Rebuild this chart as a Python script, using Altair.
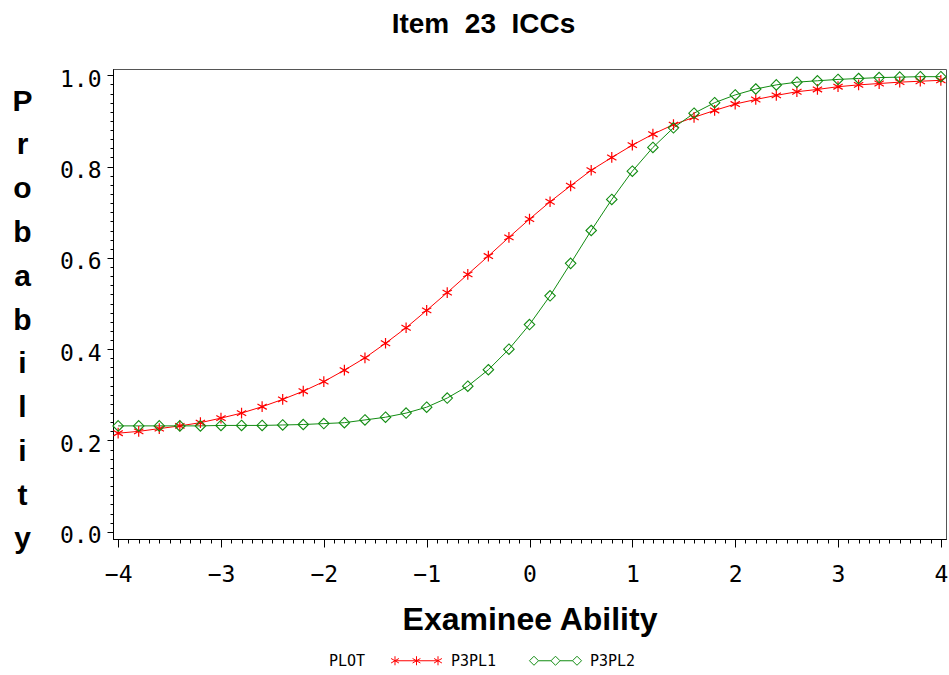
import altair as alt
import pandas as pd

# ---- data ----
theta = [-4.0, -3.8, -3.6, -3.4, -3.2, -3.0, -2.8, -2.6, -2.4, -2.2, -2.0,
         -1.8, -1.6, -1.4, -1.2, -1.0, -0.8, -0.6, -0.4, -0.2, 0.0,
         0.2, 0.4, 0.6, 0.8, 1.0, 1.2, 1.4, 1.6, 1.8, 2.0,
         2.2, 2.4, 2.6, 2.8, 3.0, 3.2, 3.4, 3.6, 3.8, 4.0]
p3pl1 = [0.216, 0.220, 0.226, 0.232, 0.239, 0.249, 0.260, 0.274, 0.290, 0.308, 0.329,
         0.354, 0.381, 0.413, 0.447, 0.485, 0.524, 0.564, 0.604, 0.645, 0.685,
         0.723, 0.758, 0.792, 0.820, 0.847, 0.871, 0.892, 0.908, 0.923, 0.937,
         0.947, 0.956, 0.964, 0.969, 0.975, 0.979, 0.982, 0.985, 0.987, 0.989]
p3pl2 = [0.232, 0.232, 0.232, 0.232, 0.232, 0.233, 0.233, 0.233, 0.234, 0.235, 0.237,
         0.239, 0.245, 0.251, 0.260, 0.273, 0.293, 0.319, 0.355, 0.400, 0.454,
         0.517, 0.588, 0.660, 0.728, 0.790, 0.842, 0.885, 0.917, 0.940, 0.957,
         0.970, 0.979, 0.985, 0.988, 0.991, 0.993, 0.995, 0.996, 0.997, 0.997]
series_names = ["P3PL1", "P3PL2"]
series_colors = ["#ff0000", "#128c12"]
x_major = [-4, -3, -2, -1, 0, 1, 2, 3, 4]
x_minor = [i / 10 for i in range(-40, 41)]
y_major = [0.0, 0.2, 0.4, 0.6, 0.8, 1.0]
y_minor = [i / 50 for i in range(0, 51)]

rows = []
for t, a, b in zip(theta, p3pl1, p3pl2):
    rows.append({"theta": t, "prob": a, "series": series_names[0]})
    rows.append({"theta": t, "prob": b, "series": series_names[1]})
df = pd.DataFrame(rows)

MONO = "DejaVu Sans Mono"
SANS = "Liberation Sans"
NB = "\u00a0"

xs = alt.Scale(domain=[-4.05, 4.05], nice=False, zero=False)
ys = alt.Scale(domain=[-0.0158, 1.0138], nice=False, zero=False)
cs = alt.Scale(domain=series_names, range=series_colors)

star_path = "M0,-1L0,1M-0.87,-0.5L0.87,0.5M-0.87,0.5L0.87,-0.5"
diamond_path = "M0,-1L1,0L0,1L-1,0Z"


def leg_star(cx):
    r = 0.21
    dx, dy = 0.182, 0.105
    return (f"M{cx},{-r}L{cx},{r}M{cx-dx},{-dy}L{cx+dx},{dy}"
            f"M{cx-dx},{dy}L{cx+dx},{-dy}")


def leg_diamond(cx):
    r = 0.21
    return f"M{cx},{-r}L{cx+r},0L{cx},{r}L{cx-r},0Z"


red_leg = "M-1,0L1,0" + "".join(leg_star(c) for c in (-1, 0, 1))
green_leg = ("M-0.79,0L-0.21,0M0.21,0L0.79,0"
             + "".join(leg_diamond(c) for c in (-1, 0, 1)))

x_minor_axis = alt.Axis(orient="bottom", values=x_minor, tickSize=4, labels=False,
                        title=None, grid=False, domainColor="black",
                        tickColor="black", tickWidth=1)
y_minor_axis = alt.Axis(orient="left", values=y_minor, tickSize=3, labels=False,
                        title=None, grid=False, domainColor="black",
                        tickColor="black", tickWidth=1)

x_major_axis = alt.Axis(orient="bottom", values=x_major, tickSize=8, format="d",
                        labelFont=MONO, labelFontSize=23, labelColor="black",
                        labelPadding=16, labelBaseline="top", grid=False,
                        domainColor="black", tickColor="black", tickWidth=1,
                        labelFlush=False, labelOverlap=False,
                        title="Examinee Ability", titleFont=SANS, titleFontSize=32,
                        titleFontWeight="bold", titleColor="black",
                        titleBaseline="top", titleY=65)
y_major_axis = alt.Axis(orient="left", values=y_major, tickSize=6, format=".1f",
                        labelFont=MONO, labelFontSize=23, labelColor="black",
                        labelPadding=6, labelOffset=4, grid=False,
                        domainColor="black", tickColor="black", tickWidth=1,
                        labelFlush=False, labelOverlap=False,
                        title=list("Probability"), titleAngle=0,
                        titleAlign="center", titleBaseline="top",
                        titleX=-91, titleY=17, titleFont=SANS, titleFontSize=30,
                        titleFontWeight="bold", titleColor="black",
                        titleLineHeight=43.8)


def series_data(name):
    return alt.Chart(df).transform_filter(alt.datum.series == name)


line1 = series_data(series_names[0]).mark_line(
    strokeWidth=1, color=series_colors[0]
).encode(
    x=alt.X("theta:Q", scale=xs, axis=x_minor_axis),
    y=alt.Y("prob:Q", scale=ys, axis=y_minor_axis),
)

line2 = series_data(series_names[1]).mark_line(
    strokeWidth=1, color=series_colors[1]
).encode(
    x=alt.X("theta:Q", scale=xs, axis=None),
    y=alt.Y("prob:Q", scale=ys, axis=None),
)

pts1 = series_data(series_names[0]).mark_point(
    shape=star_path, size=115, filled=False, opacity=1, strokeWidth=1.2,
    color=series_colors[0]
).encode(
    x=alt.X("theta:Q", scale=xs, axis=x_major_axis),
    y=alt.Y("prob:Q", scale=ys, axis=y_major_axis),
)

pts2 = series_data(series_names[1]).mark_point(
    shape=diamond_path, size=110, filled=False, opacity=1, strokeWidth=1.1,
    color=series_colors[1]
).encode(
    x=alt.X("theta:Q", scale=xs, axis=None),
    y=alt.Y("prob:Q", scale=ys, axis=None),
)

legend_layer = alt.Chart(df).transform_filter("datum.prob > 5").mark_point(
    filled=False, opacity=1, strokeWidth=1
).encode(
    x=alt.X("theta:Q", scale=xs, axis=None),
    y=alt.Y("prob:Q", scale=ys, axis=None),
    color=alt.Color("series:N", scale=cs, legend=alt.Legend(title="PLOT")),
    shape=alt.Shape("series:N",
                    scale=alt.Scale(domain=series_names, range=[red_leg, green_leg]),
                    legend=alt.Legend(title="PLOT")),
)

chart = alt.layer(line1, line2, pts1, pts2, legend_layer).resolve_axis(
    x="independent", y="independent"
).properties(
    width=833,
    height=470,
    autosize=alt.AutoSizeParams(type="none"),
    padding={"left": 113, "top": 69, "right": 3, "bottom": 136},
    background="white",
    title=alt.TitleParams(f"Item{NB}{NB}23{NB}{NB}ICCs", font=SANS, fontSize=28,
                          fontWeight="bold", color="black", anchor="middle",
                          frame="group", dx=-46, baseline="alphabetic",
                          offset=7),
).configure_view(
    stroke="#555555", strokeWidth=1
).configure_legend(
    orient="none", legendX=216, legendY=569, direction="horizontal",
    titleOrient="left", titleAnchor="middle", titleFont=MONO, titleFontSize=15,
    titleFontWeight="normal", titleColor="black", titlePadding=28,
    titleBaseline="line-top", titleLineHeight=18,
    labelFont=MONO, labelFontSize=15, labelColor="black", labelOffset=12,
    symbolSize=1850, symbolStrokeWidth=1, columnPadding=30,
)

chart.save("out.html", embed_options={"renderer": "svg", "actions": False})
